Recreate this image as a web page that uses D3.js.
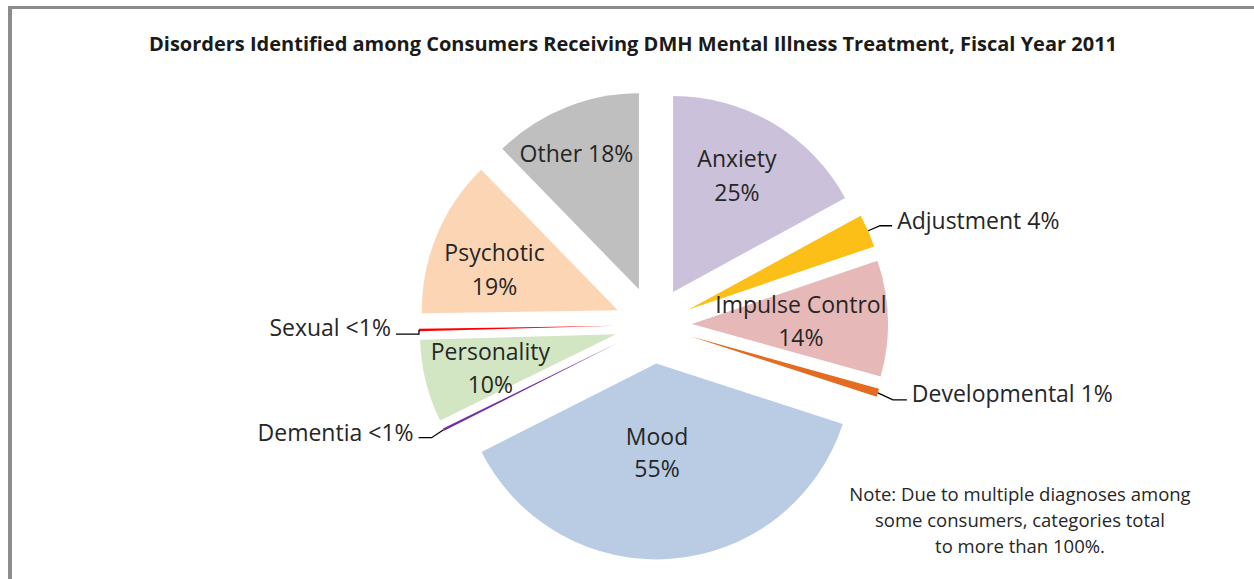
<!DOCTYPE html>
<html>
<head>
<meta charset="utf-8">
<script src="https://cdn.jsdelivr.net/npm/d3@7"></script>
<style>
  body { margin: 0; background: #fff; }
  text { font-family: "Open Sans", Lato, sans-serif; }
</style>
</head>
<body>
<div id="chart"></div>
<script>
// Chart data
var categories = ["Anxiety", "Adjustment", "Impulse Control", "Developmental", "Mood",
  "Dementia", "Personality", "Sexual", "Psychotic", "Other"];
var values = [25, 4, 14, 1, 55, 0.3, 10, 0.3, 19, 18];
var valueLabels = ["25%", "4%", "14%", "1%", "55%", "<1%", "10%", "<1%", "19%", "18%"];
var colors = ["#ccc1da", "#fcbf17", "#e6b9b8", "#e46c22", "#b9cce4",
  "#7030a0", "#d3e6c3", "#ff0000", "#fcd5b5", "#bfbfbf"];

var title = "Disorders Identified among Consumers Receiving DMH Mental Illness Treatment, Fiscal Year 2011";
var noteLines = ["Note: Due to multiple diagnoses among", "some consumers, categories total", "to more than 100%."];

var svgWidth = 1254;
var svgHeight = 579;

var cx = 653.4, cy = 325;
var radius = 196;
var explode = 38.5;

// inside labels: distance from slice apex, angle nudge (deg), one or two lines
var insideLabels = {
  "Anxiety": { dist: 133, nudge: -2, lines: 2, gap: 34 },
  "Impulse Control": { dist: 109, nudge: 0, lines: 2, gap: 33 },
  "Mood": { dist: 89, nudge: 4, lines: 2, gap: 32 },
  "Personality": { dist: 130, nudge: -1, lines: 2, gap: 33 },
  "Psychotic": { dist: 130, nudge: -4, lines: 2, gap: 34 },
  "Other": { dist: 150, nudge: -2.5, lines: 1, gap: 0 }
};

// outside labels with leader lines
var outsideLabels = {
  "Adjustment": { elbow: [12, -5], run: 12, side: 1, dy: -6 },
  "Developmental": { elbow: [15, 7], run: 14, side: 1, dy: -7 },
  "Sexual": { elbow: [0, 4], run: 23, side: -1, dy: -7 },
  "Dementia": { elbow: [-12, 8], run: 13, side: -1, dy: -6 }
};

var svg = d3.select("#chart")
  .append("svg")
  .attr("width", svgWidth)
  .attr("height", svgHeight);

// frame
svg.append("line")
  .attr("x1", 10).attr("y1", 6).attr("x2", 10).attr("y2", svgHeight)
  .attr("stroke", "#8c8c8c").attr("stroke-width", 4);
svg.append("line")
  .attr("x1", 8).attr("y1", 7.5).attr("x2", svgWidth).attr("y2", 7.5)
  .attr("stroke", "#8c8c8c").attr("stroke-width", 3);

svg.append("text")
  .attr("x", 633)
  .attr("y", 43)
  .attr("text-anchor", "middle")
  .attr("dominant-baseline", "central")
  .style("font-weight", "bold")
  .style("font-size", "20px")
  .attr("fill", "#1a1a1a")
  .text(title);

var pieData = categories.map(function(c, i) {
  return { name: c, value: values[i], label: valueLabels[i], color: colors[i] };
});

var pie = d3.pie()
  .sort(null)
  .value(d => d.value);

var arcs = pie(pieData);

var arc = d3.arc()
  .innerRadius(0)
  .outerRadius(radius);

function midAngle(d) {
  return (d.startAngle + d.endAngle) / 2;
}

function apex(d) {
  var a = midAngle(d);
  return [cx + explode * Math.sin(a), cy - explode * Math.cos(a)];
}

var slices = svg.append("g")
  .selectAll("g")
  .data(arcs)
  .enter()
  .append("g")
  .attr("transform", d => `translate(${apex(d)[0]}, ${apex(d)[1]})`);

slices.append("path")
  .attr("d", arc)
  .attr("fill", d => d.data.color);

var textColor = "#262626";
var labelSize = "23px";

// inside labels
arcs.forEach(function(d) {
  var opt = insideLabels[d.data.name];
  if (!opt) return;
  var p = apex(d);
  var a = midAngle(d) + opt.nudge * Math.PI / 180;
  var lx = p[0] + opt.dist * Math.sin(a);
  var ly = p[1] - opt.dist * Math.cos(a);
  var t = svg.append("text")
    .attr("text-anchor", "middle")
    .attr("dominant-baseline", "central")
    .style("font-size", labelSize)
    .attr("fill", textColor);
  if (opt.lines === 1) {
    t.attr("x", lx).attr("y", ly).text(d.data.name + " " + d.data.label);
  } else {
    t.append("tspan").attr("x", lx).attr("y", ly - opt.gap / 2).text(d.data.name);
    t.append("tspan").attr("x", lx).attr("y", ly + opt.gap / 2).text(d.data.label);
  }
});

// outside labels and leader lines
arcs.forEach(function(d) {
  var opt = outsideLabels[d.data.name];
  if (!opt) return;
  var p = apex(d);
  var a = midAngle(d);
  var tip = [p[0] + radius * Math.sin(a), p[1] - radius * Math.cos(a)];
  var elbow = [tip[0] + opt.elbow[0], tip[1] + opt.elbow[1]];
  var end = [elbow[0] + opt.side * opt.run, elbow[1]];
  svg.append("path")
    .attr("d", d3.line()([tip, elbow, end]))
    .attr("fill", "none")
    .attr("stroke", "#000")
    .attr("stroke-width", 1.3);
  svg.append("text")
    .attr("x", end[0] + opt.side * 5)
    .attr("y", end[1] + opt.dy)
    .attr("text-anchor", opt.side > 0 ? "start" : "end")
    .attr("dominant-baseline", "central")
    .style("font-size", labelSize)
    .attr("fill", textColor)
    .text(d.data.name + " " + d.data.label);
});

// note
svg.append("g")
  .selectAll("text")
  .data(noteLines)
  .enter()
  .append("text")
  .attr("x", 1020)
  .attr("y", (d, i) => 493 + i * 26)
  .attr("text-anchor", "middle")
  .attr("dominant-baseline", "central")
  .style("font-size", "18.5px")
  .attr("fill", textColor)
  .text(d => d);
</script>
</body>
</html>
